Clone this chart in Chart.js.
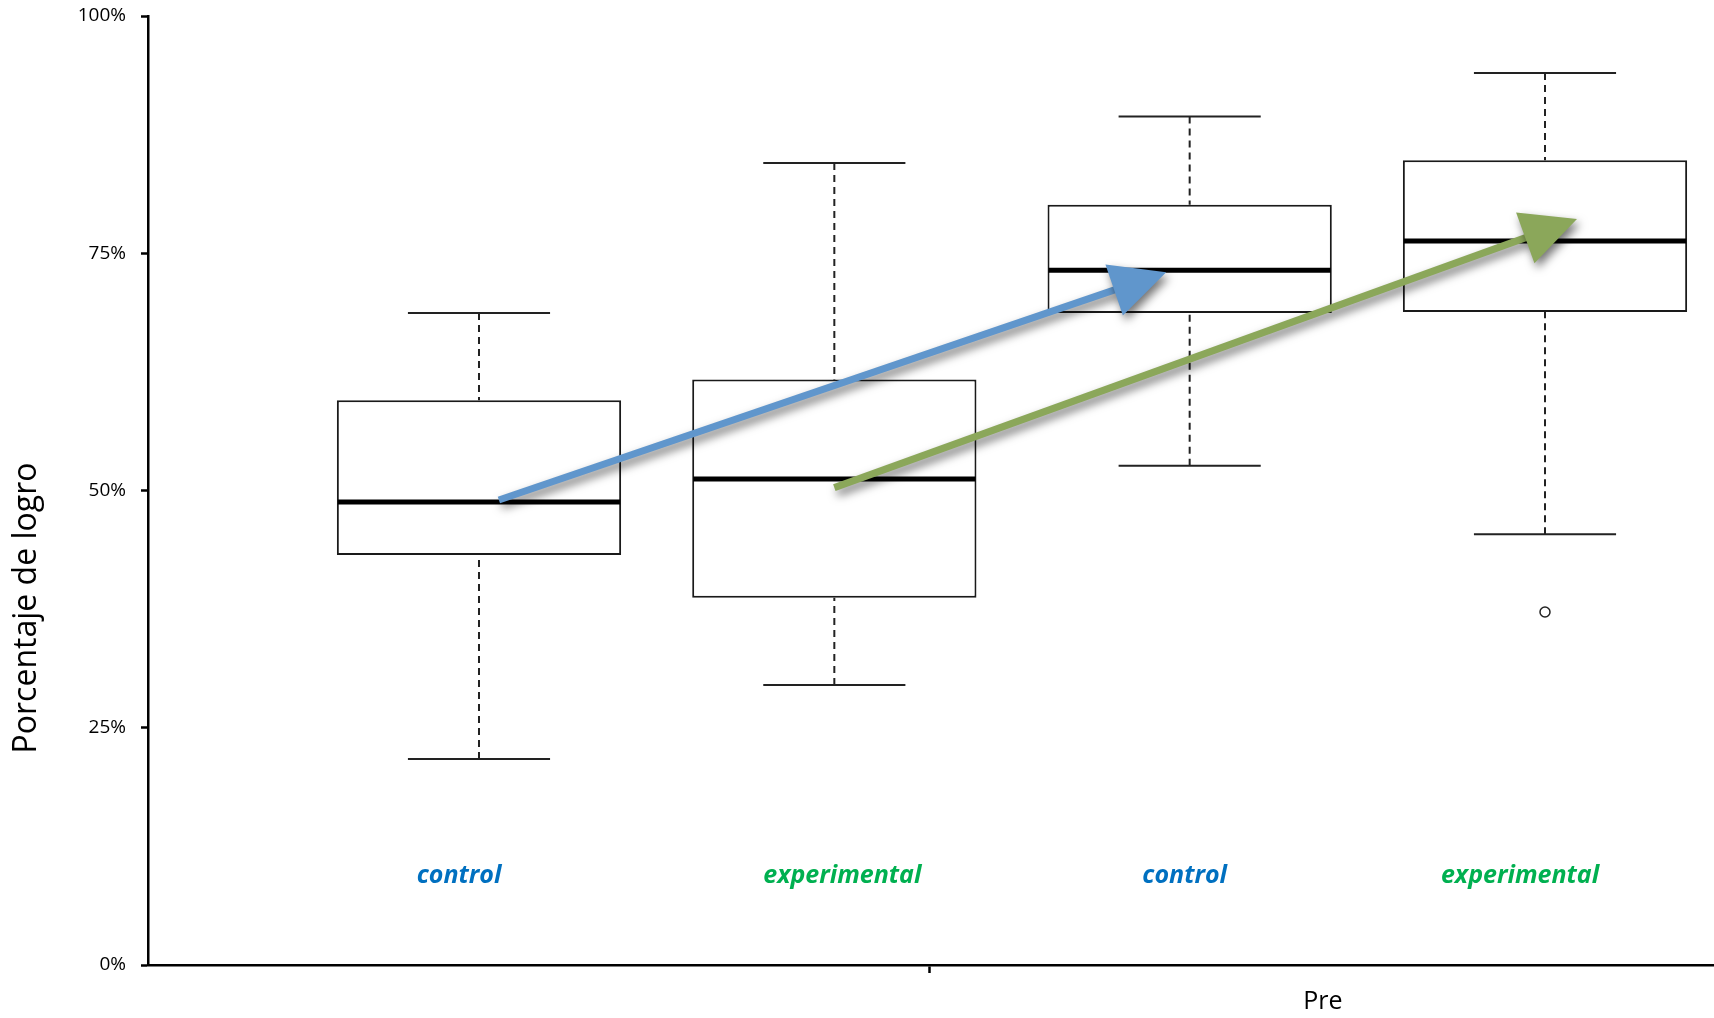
<!DOCTYPE html>
<html>
<head>
<meta charset="utf-8">
<script src="https://cdn.jsdelivr.net/npm/chart.js@4.4.0/dist/chart.umd.min.js"></script>
<style>
  html, body { margin: 0; padding: 0; background: #fff; overflow: hidden; }
  #wrap { width: 1714px; height: 1018px; }
</style>
</head>
<body>
<div id="wrap"><canvas id="boxChart"></canvas></div>
<script>
// box plot data (percent)
const groups = ['control', 'experimental', 'control', 'experimental'];
const positions = [1, 2, 3, 4];
const whiskerLow = [21.7, 29.5, 52.6, 45.4];
const q1 = [43.2, 38.7, 68.7, 68.8];
const medians = [48.8, 51.2, 73.2, 76.3];
const q3 = [59.5, 61.7, 80.1, 84.8];
const whiskerHigh = [68.7, 84.5, 89.4, 94.0];
const outliers = [{ x: 4, y: 37.2 }];
const yTicks = [0, 25, 50, 75, 100];
const xTickLabels = ['Pre'];
const xTickValues = [2.269];
// arrows from -> to, in axis units [x, y]
const arrowFrom = [[1.056, 49.0], [2.0, 50.3]];
const arrowTo = [[2.934, 73.0], [4.09, 78.6]];

const groupColors = { control: '#0070C0', experimental: '#00B050' };
const labelNudge = [-20, 8, -5, -25];   // px, labels are not quite centred in the original
const arrowColors = ['#6096cc', '#8ba75a'];
const yTitle = 'Porcentaje de logro';

// whiskers, caps, medians and group labels
const boxExtras = {
    id: 'boxExtras',
    afterDatasetsDraw(chart) {
        const ctx = chart.ctx;
        const xs = chart.scales.x, ys = chart.scales.y;
        ctx.save();
        positions.forEach((p, i) => {
            const cx = xs.getPixelForValue(p);
            const capL = xs.getPixelForValue(p - 0.2), capR = xs.getPixelForValue(p + 0.2);
            const boxL = xs.getPixelForValue(p - 0.4), boxR = xs.getPixelForValue(p + 0.4);
            const yHi = ys.getPixelForValue(whiskerHigh[i]);
            const yLo = ys.getPixelForValue(whiskerLow[i]);

            ctx.strokeStyle = '#222';
            ctx.lineWidth = 2;
            ctx.setLineDash([7, 5]);
            ctx.beginPath();
            ctx.moveTo(cx, yHi); ctx.lineTo(cx, ys.getPixelForValue(q3[i]));
            ctx.moveTo(cx, yLo); ctx.lineTo(cx, ys.getPixelForValue(q1[i]));
            ctx.stroke();
            ctx.setLineDash([]);

            ctx.beginPath();
            ctx.moveTo(capL, yHi); ctx.lineTo(capR, yHi);
            ctx.moveTo(capL, yLo); ctx.lineTo(capR, yLo);
            ctx.stroke();

            ctx.strokeStyle = '#000';
            ctx.lineWidth = 5;
            ctx.beginPath();
            const ym = ys.getPixelForValue(medians[i]);
            ctx.moveTo(boxL + 1, ym); ctx.lineTo(boxR - 1, ym);
            ctx.stroke();

            ctx.font = 'italic bold 25px "Open Sans"';
            ctx.fillStyle = groupColors[groups[i]];
            ctx.textAlign = 'center';
            ctx.textBaseline = 'middle';
            ctx.fillText(groups[i], cx + labelNudge[i], ys.getPixelForValue(9.4));
        });
        ctx.restore();
    }
};

// arrows drawn on top, plus the rotated y title
const overlay = {
    id: 'overlay',
    afterDraw(chart) {
        const ctx = chart.ctx;
        const xs = chart.scales.x, ys = chart.scales.y;
        ctx.save();
        arrowFrom.forEach((from, i) => {
            const x0 = xs.getPixelForValue(from[0]), y0 = ys.getPixelForValue(from[1]);
            const x1 = xs.getPixelForValue(arrowTo[i][0]), y1 = ys.getPixelForValue(arrowTo[i][1]);
            const ang = Math.atan2(y1 - y0, x1 - x0);
            const headLen = 55, headHalf = 27;
            const bx = x1 - headLen * Math.cos(ang), by = y1 - headLen * Math.sin(ang);

            ctx.shadowColor = 'rgba(0,0,0,0.55)';
            ctx.shadowBlur = 10;
            ctx.shadowOffsetX = 3;
            ctx.shadowOffsetY = 5;

            ctx.strokeStyle = arrowColors[i];
            ctx.lineWidth = 7;
            ctx.lineCap = 'butt';
            ctx.beginPath();
            ctx.moveTo(x0, y0);
            ctx.lineTo(bx + 2 * Math.cos(ang), by + 2 * Math.sin(ang));
            ctx.stroke();

            ctx.fillStyle = arrowColors[i];
            ctx.beginPath();
            ctx.moveTo(x1, y1);
            ctx.lineTo(bx + headHalf * Math.sin(ang), by - headHalf * Math.cos(ang));
            ctx.lineTo(bx - headHalf * Math.sin(ang), by + headHalf * Math.cos(ang));
            ctx.closePath();
            ctx.fill();
        });
        ctx.shadowColor = 'transparent';

        ctx.translate(27, 608);
        ctx.rotate(-Math.PI / 2);
        ctx.font = '32px "Open Sans"';
        ctx.fillStyle = '#000';
        ctx.textAlign = 'center';
        ctx.textBaseline = 'middle';
        ctx.fillText(yTitle, 0, 0);
        ctx.restore();
    }
};

document.addEventListener('DOMContentLoaded', () => {
    const el = document.getElementById('boxChart');

    new Chart(el.getContext('2d'), {
        type: 'bar',
        data: {
            datasets: [{
                label: 'IQR',
                data: positions.map((p, i) => ({ x: p, y: [q1[i], q3[i]] })),
                backgroundColor: '#fff',
                borderColor: '#1a1a1a',
                borderWidth: 2,
                borderSkipped: false,
                categoryPercentage: 0.8,
                barPercentage: 1.0
            }, {
                type: 'scatter',
                label: 'outliers',
                data: outliers,
                pointRadius: 5,
                pointBorderWidth: 1.5,
                pointBorderColor: '#222',
                pointBackgroundColor: '#fff'
            }]
        },
        options: {
            responsive: true,
            maintainAspectRatio: false,
            animation: false,
            layout: { autoPadding: false, padding: { top: 16, right: 0, left: 0, bottom: 0 } },
            plugins: {
                legend: { display: false },
                tooltip: { enabled: false }
            },
            scales: {
                x: {
                    type: 'linear',
                    min: 0.0685,
                    max: 4.4756,
                    offset: false,
                    afterBuildTicks: axis => {
                        axis.ticks = xTickValues.map(v => ({ value: v }));
                    },
                    afterFit: axis => {
                        axis.height = 53;
                        axis.paddingLeft = 0;
                        axis.paddingRight = 0;
                    },
                    ticks: {
                        callback: (v, idx) => xTickLabels[idx],
                        labelOffset: 393,
                        padding: 14,
                        maxRotation: 0,
                        autoSkip: false,
                        color: '#000',
                        font: { family: 'Open Sans', size: 25 }
                    },
                    grid: {
                        offset: false,
                        drawOnChartArea: false,
                        tickLength: 8,
                        tickWidth: 2.5,
                        tickColor: '#000'
                    },
                    border: { display: true, color: '#000', width: 2.5 }
                },
                y: {
                    min: 0,
                    max: 100,
                    afterBuildTicks: axis => {
                        axis.ticks = yTicks.map(v => ({ value: v }));
                    },
                    afterFit: axis => {
                        axis.width = 148;
                        axis.paddingTop = 0;
                        axis.paddingBottom = 0;
                    },
                    ticks: {
                        callback: v => v + '%',
                        padding: 15,
                        color: '#000',
                        font: { family: 'Open Sans', size: 19 }
                    },
                    grid: {
                        drawOnChartArea: false,
                        tickLength: 7,
                        tickWidth: 2.5,
                        tickColor: '#000'
                    },
                    border: { display: true, color: '#000', width: 2.5 }
                }
            }
        },
        plugins: [boxExtras, overlay]
    });
});
</script>
</body>
</html>
